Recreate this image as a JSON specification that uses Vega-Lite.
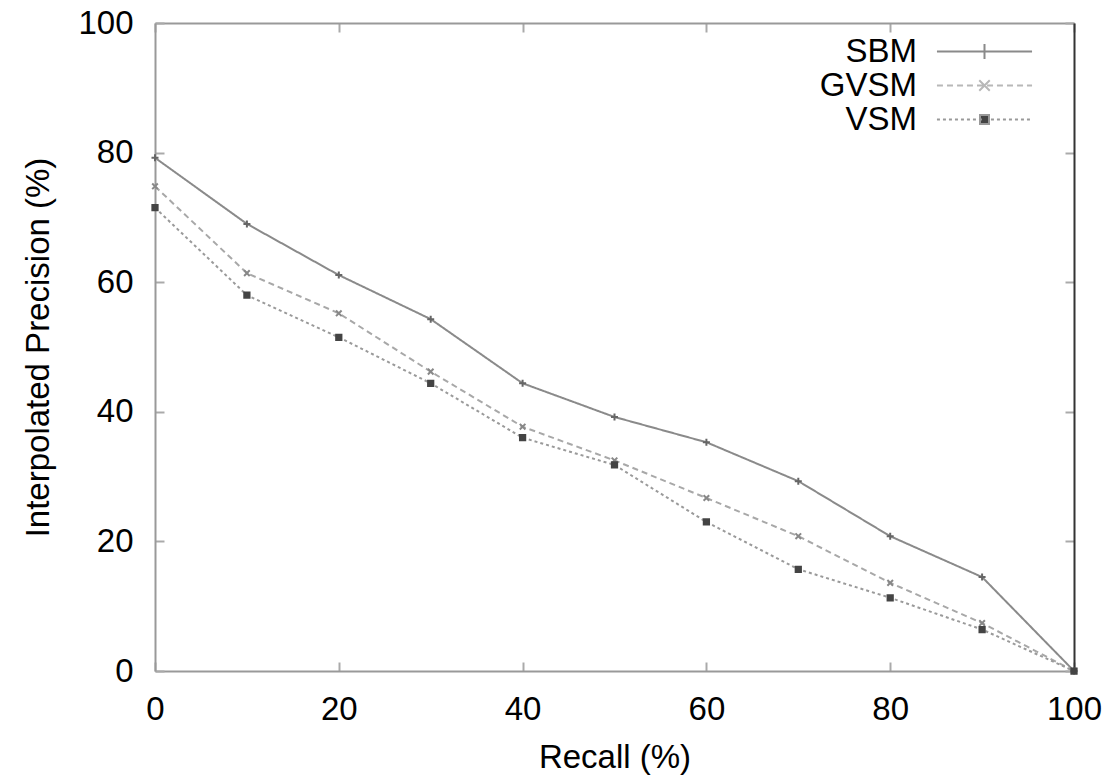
{
  "$schema": "https://vega.github.io/schema/vega-lite/v6.json",
  "width": 919,
  "height": 648,
  "autosize": "none",
  "padding": {"left": 155, "top": 23, "right": 33, "bottom": 106},
  "background": "white",
  "config": {
    "view": {"stroke": null},
    "font": "Liberation Sans",
    "axis": {
      "grid": false,
      "labelFont": "Liberation Sans",
      "titleFont": "Liberation Sans",
      "labelFontSize": 33,
      "titleFontSize": 33,
      "labelColor": "black",
      "titleColor": "black",
      "titleFontWeight": "normal",
      "domainColor": "#999",
      "domainWidth": 2,
      "tickColor": "#aaaaaa",
      "tickWidth": 2,
      "tickSize": -9
    }
  },
  "data": {
    "values": [
      {"series": "SBM", "recall": 0, "precision": 79.2},
      {"series": "SBM", "recall": 10, "precision": 69.0},
      {"series": "SBM", "recall": 20, "precision": 61.1},
      {"series": "SBM", "recall": 30, "precision": 54.3},
      {"series": "SBM", "recall": 40, "precision": 44.4},
      {"series": "SBM", "recall": 50, "precision": 39.2},
      {"series": "SBM", "recall": 60, "precision": 35.3},
      {"series": "SBM", "recall": 70, "precision": 29.3},
      {"series": "SBM", "recall": 80, "precision": 20.8},
      {"series": "SBM", "recall": 90, "precision": 14.5},
      {"series": "SBM", "recall": 100, "precision": 0},
      {"series": "GVSM", "recall": 0, "precision": 74.8},
      {"series": "GVSM", "recall": 10, "precision": 61.4},
      {"series": "GVSM", "recall": 20, "precision": 55.2},
      {"series": "GVSM", "recall": 30, "precision": 46.2},
      {"series": "GVSM", "recall": 40, "precision": 37.7},
      {"series": "GVSM", "recall": 50, "precision": 32.5},
      {"series": "GVSM", "recall": 60, "precision": 26.7},
      {"series": "GVSM", "recall": 70, "precision": 20.8},
      {"series": "GVSM", "recall": 80, "precision": 13.6},
      {"series": "GVSM", "recall": 90, "precision": 7.4},
      {"series": "GVSM", "recall": 100, "precision": 0},
      {"series": "VSM", "recall": 0, "precision": 71.5},
      {"series": "VSM", "recall": 10, "precision": 58.0},
      {"series": "VSM", "recall": 20, "precision": 51.5},
      {"series": "VSM", "recall": 30, "precision": 44.4},
      {"series": "VSM", "recall": 40, "precision": 36.0},
      {"series": "VSM", "recall": 50, "precision": 31.8},
      {"series": "VSM", "recall": 60, "precision": 23.0},
      {"series": "VSM", "recall": 70, "precision": 15.7},
      {"series": "VSM", "recall": 80, "precision": 11.3},
      {"series": "VSM", "recall": 90, "precision": 6.4},
      {"series": "VSM", "recall": 100, "precision": 0}
    ]
  },
  "resolve": {
    "axis": {"x": "independent", "y": "independent"},
    "scale": {"shape": "independent", "stroke": "independent", "fill": "independent"}
  },
  "layer": [
    {
      "mark": {"type": "line", "strokeWidth": 2},
      "encoding": {
        "x": {"field": "recall", "type": "quantitative",
              "scale": {"domain": [0, 100], "nice": false},
              "axis": {"orient": "bottom", "values": [0, 20, 40, 60, 80, 100], "title": "Recall (%)", "labelPadding": 31, "titlePadding": 15, "labelFlush": false}},
        "y": {"field": "precision", "type": "quantitative",
              "scale": {"domain": [0, 100], "nice": false},
              "axis": {"orient": "left", "values": [0, 20, 40, 60, 80, 100], "title": "Interpolated Precision (%)", "labelPadding": 31, "titlePadding": 22, "labelFlush": false}},
        "detail": {"field": "series"},
        "stroke": {"field": "series", "type": "nominal", "sort": ["SBM", "GVSM", "VSM"],
                   "scale": {"range": ["#8a8a8a", "#a8a8a8", "#9a9a9a"]},
                   "legend": null},
        "strokeDash": {"field": "series", "type": "nominal", "sort": ["SBM", "GVSM", "VSM"],
                       "scale": {"range": [[1, 0], [6, 4], [3, 3]]},
                       "legend": null}
      }
    },
    {
      "mark": {"type": "point", "strokeWidth": 2, "opacity": 1, "size": 49},
      "encoding": {
        "x": {"field": "recall", "type": "quantitative",
              "axis": {"orient": "top", "values": [0, 20, 40, 60, 80, 100], "labels": false, "title": null}},
        "y": {"field": "precision", "type": "quantitative",
              "axis": {"orient": "right", "values": [0, 20, 40, 60, 80, 100], "labels": false, "title": null, "domainColor": "#333"}},
        "shape": {"field": "series", "type": "nominal", "sort": ["SBM", "GVSM", "VSM"],
                  "scale": {"range": ["M-1,0H1M0,-1V1", "M-0.8,-0.8L0.8,0.8M-0.8,0.8L0.8,-0.8", "M-0.75,-0.75H0.75V0.75H-0.75Z"]},
                  "legend": null},
        "color": {"field": "series", "type": "nominal", "sort": ["SBM", "GVSM", "VSM"],
                  "scale": {"range": ["#666666", "#888888", "#444444"]},
                  "legend": null},
        "fill": {"field": "series", "type": "nominal", "sort": ["SBM", "GVSM", "VSM"],
                 "scale": {"range": ["transparent", "transparent", "#444444"]},
                 "legend": null}
      }
    },
    {
      "mark": {"type": "point", "strokeWidth": 2, "opacity": 0, "size": 900},
      "encoding": {
        "x": {"field": "recall", "type": "quantitative", "axis": null},
        "y": {"field": "precision", "type": "quantitative", "axis": null},
        "shape": {"field": "series", "type": "nominal",
                  "scale": {"domain": ["SBM", "GVSM", "VSM"],
                            "range": [
                              "M-3.17,0H3.17M0,-0.5V0.5",
                              "M-3.17,0H-2.77M-2.5,0H-2.1M-1.83,0H-1.43M-1.17,0H-0.77M-0.5,0H-0.1M0.17,0H0.57M0.83,0H1.23M1.5,0H1.9M2.17,0H2.57M2.83,0H3.17M-0.35,-0.35L0.35,0.35M-0.35,0.35L0.35,-0.35",
                              "M-3.17,0H-2.97M-2.77,0H-2.57M-2.37,0H-2.17M-1.97,0H-1.77M-1.57,0H-1.37M-1.17,0H-0.97M-0.77,0H-0.57M-0.37,0H-0.17M0.43,0H0.63M0.83,0H1.03M1.23,0H1.43M1.63,0H1.83M2.03,0H2.23M2.43,0H2.63M2.83,0H3.03M-0.3,-0.3H0.3V0.3H-0.3Z"
                            ]},
                  "legend": {
                    "orient": "none",
                    "legendX": 813,
                    "legendY": 12,
                    "title": null,
                    "symbolSize": 900,
                    "symbolStrokeWidth": 2,
                    "symbolOpacity": 1,
                    "labelFont": "Liberation Sans",
                    "labelFontSize": 33,
                    "labelColor": "black",
                    "labelAlign": "right",
                    "labelOffset": -84,
                    "rowPadding": -3.5
                  }},
        "stroke": {"field": "series", "type": "nominal",
                   "scale": {"domain": ["SBM", "GVSM", "VSM"], "range": ["#8a8a8a", "#b8b8b8", "#999999"]},
                   "legend": {"orient": "none", "legendX": 813, "legendY": 12, "title": null, "symbolSize": 900, "symbolStrokeWidth": 2, "symbolOpacity": 1, "labelFontSize": 33, "labelAlign": "right", "labelOffset": -84, "rowPadding": -3.5}},
        "fill": {"field": "series", "type": "nominal",
                 "scale": {"domain": ["SBM", "GVSM", "VSM"], "range": ["transparent", "transparent", "#444444"]},
                 "legend": {"orient": "none", "legendX": 813, "legendY": 12, "title": null, "symbolSize": 900, "symbolStrokeWidth": 2, "symbolOpacity": 1, "labelFontSize": 33, "labelAlign": "right", "labelOffset": -84, "rowPadding": -3.5}}
      }
    }
  ]
}
